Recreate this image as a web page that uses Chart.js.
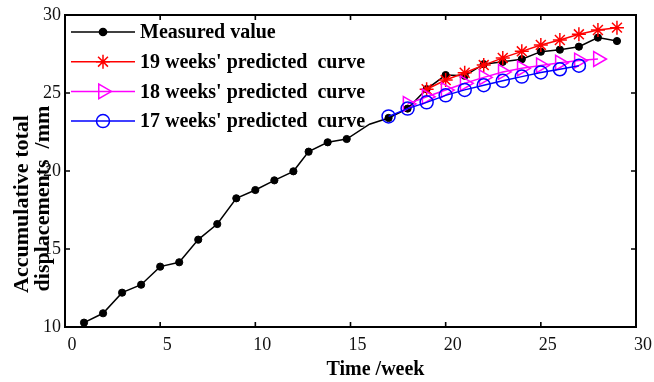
<!DOCTYPE html>
<html>
<head>
<meta charset="utf-8">
<script src="https://cdn.jsdelivr.net/npm/chart.js@4.4.1/dist/chart.umd.min.js"></script>
<style>
  html, body { margin: 0; padding: 0; background: #ffffff; }
  #wrap { width: 654px; height: 382px; position: relative; }
</style>
</head>
<body>
<div id="wrap"><canvas id="c" width="654" height="382"></canvas></div>
<script>
// ---- data ----
const measuredWeeks = [1, 2, 3, 4, 5, 6, 7, 8, 9, 10, 11, 12, 12.8, 13.8, 14.8, 16, 17, 18, 19, 20, 21, 22, 23, 24, 25, 26, 27, 28, 29];
const measuredValues = [10.28, 10.88, 12.20, 12.71, 13.87, 14.15, 15.60, 16.60, 18.25, 18.78, 19.40, 19.98, 21.24, 21.84, 22.05, 23.00, 23.40, 24.00, 25.25, 26.15, 26.10, 26.85, 27.00, 27.17, 27.65, 27.78, 27.97, 28.55, 28.33];
const measuredMarkerShown = [1,1,1,1,1,1,1,1,1,1,1,1,1,1,1,0,1,1,1,1,1,1,1,1,1,1,1,1,1];

const weeks19 = [19, 20, 21, 22, 23, 24, 25, 26, 27, 28, 29];
const pred19 = [25.24, 25.83, 26.30, 26.79, 27.25, 27.67, 28.08, 28.40, 28.76, 29.04, 29.19];

const weeks18 = [18, 19, 20, 21, 22, 23, 24, 25, 26, 27, 28];
const pred18 = [24.30, 24.76, 25.19, 25.62, 26.00, 26.35, 26.58, 26.77, 26.94, 27.08, 27.18];

const weeks17 = [17, 18, 19, 20, 21, 22, 23, 24, 25, 26, 27];
const pred17 = [23.50, 24.00, 24.40, 24.85, 25.20, 25.50, 25.78, 26.05, 26.32, 26.52, 26.75];

const seriesNames = ["Measured value", "19 weeks' predicted  curve", "18 weeks' predicted  curve", "17 weeks' predicted  curve"];
const xTickValues = [0, 5, 10, 15, 20, 25, 30];
const yTickValues = [10, 15, 20, 25, 30];
const xTitle = "Time /week";
const yTitleLines = ["Accumulative total", "displacements  /mm"];

// ---- build ----
const pts = (xs, ys) => xs.map((x, i) => ({ x: x, y: ys[i] }));
const SERIF = "'Liberation Serif', 'Times New Roman', serif";

const datasets = [
  { label: seriesNames[0], data: pts(measuredWeeks, measuredValues), borderColor: '#000000', backgroundColor: '#000000',
    pointStyle: 'circle', pointRadius: measuredMarkerShown.map(s => s ? 3.6 : 0), pointBorderWidth: 1, borderWidth: 1.5, order: 4 },
  { label: seriesNames[1], data: pts(weeks19, pred19), borderColor: '#ff0000', backgroundColor: '#ff0000',
    pointStyle: 'star', pointRadius: 7, pointBorderWidth: 1.5, borderWidth: 1.5, order: 3 },
  { label: seriesNames[2], data: pts(weeks18, pred18), borderColor: '#ff00ff', backgroundColor: 'rgba(0,0,0,0)',
    pointStyle: 'triangle', pointRotation: 90, pointRadius: 8.5, pointBorderWidth: 1.5, borderWidth: 1.5, order: 2 },
  { label: seriesNames[3], data: pts(weeks17, pred17), borderColor: '#0000ff', backgroundColor: 'rgba(0,0,0,0)',
    pointStyle: 'circle', pointRadius: 6.5, pointBorderWidth: 1.5, borderWidth: 1.5, order: 1 }
];
datasets.forEach(d => { d.fill = false; d.tension = 0; d.pointHoverRadius = d.pointRadius; });

const frameAndTicks = {
  id: 'frameAndTicks',
  afterDraw(chart) {
    const { ctx, chartArea: a, scales } = chart;
    ctx.save();
    ctx.strokeStyle = '#000';
    ctx.lineWidth = 1.6;
    const L = 5;
    ctx.beginPath();
    xTickValues.forEach(v => {
      const p = scales.x.getPixelForValue(v);
      ctx.moveTo(p, a.bottom); ctx.lineTo(p, a.bottom - L);
      ctx.moveTo(p, a.top); ctx.lineTo(p, a.top + L);
    });
    yTickValues.forEach(v => {
      const p = scales.y.getPixelForValue(v);
      ctx.moveTo(a.left, p); ctx.lineTo(a.left + L, p);
      ctx.moveTo(a.right, p); ctx.lineTo(a.right - L, p);
    });
    ctx.stroke();
    ctx.lineWidth = 2;
    ctx.strokeRect(a.left, a.top, a.right - a.left, a.bottom - a.top);
    ctx.restore();
  }
};

const insideLegend = {
  id: 'insideLegend',
  afterDraw(chart) {
    const { ctx, chartArea: a } = chart;
    const lineStart = a.left + 6, lineEnd = a.left + 70, markX = a.left + 38, textX = a.left + 75;
    const rowTop = a.top + 17, rowGap = 29.7;
    ctx.save();
    chart.data.datasets.forEach((d, i) => {
      const y = rowTop + i * rowGap;
      ctx.strokeStyle = d.borderColor;
      ctx.lineWidth = d.borderWidth;
      ctx.beginPath(); ctx.moveTo(lineStart, y); ctx.lineTo(lineEnd, y); ctx.stroke();
      ctx.fillStyle = d.backgroundColor;
      const r = Array.isArray(d.pointRadius) ? 3.6 : d.pointRadius;
      Chart.helpers.drawPoint(ctx, { pointStyle: d.pointStyle, radius: r, rotation: d.pointRotation || 0, borderWidth: d.pointBorderWidth }, markX, y);
      ctx.fillStyle = '#000';
      ctx.font = "bold 20px " + SERIF;
      ctx.textBaseline = 'middle';
      ctx.textAlign = 'left';
      ctx.fillText(d.label, textX, y + 1);
    });
    ctx.restore();
  }
};

new Chart(document.getElementById('c'), {
  type: 'line',
  data: { datasets: datasets },
  plugins: [frameAndTicks, insideLegend],
  options: {
    responsive: false,
    animation: false,
    layout: { padding: { top: 15, right: 18, left: 0, bottom: 0 } },
    plugins: { legend: { display: false }, tooltip: { enabled: false } },
    scales: {
      x: {
        type: 'linear', min: 0, max: 30,
        afterBuildTicks: s => { s.ticks = xTickValues.map(v => ({ value: v })); },
        afterFit: s => { s.height = 55; },
        grid: { display: false, drawTicks: false },
        border: { display: false },
        ticks: { color: '#111', padding: 7, labelOffset: 7, maxRotation: 0, font: { family: SERIF, size: 18 } },
        title: { display: true, text: '          ' + xTitle, color: '#000', padding: { top: 0, bottom: 2 },
                 font: { family: SERIF, size: 20, weight: 'bold', lineHeight: 1.05 } }
      },
      y: {
        type: 'linear', min: 10, max: 30,
        afterBuildTicks: s => { s.ticks = yTickValues.map(v => ({ value: v })); },
        afterFit: s => { s.width = 65; },
        grid: { display: false, drawTicks: false },
        border: { display: false },
        ticks: { color: '#111', padding: 4, font: { family: SERIF, size: 18 } },
        title: { display: true, text: [yTitleLines[0] + '            ', yTitleLines[1] + '          '], color: '#000',
                 padding: { top: 12, bottom: 0 },
                 font: { family: SERIF, size: 22, weight: 'bold', lineHeight: 0.95 } }
      }
    }
  }
});
</script>
</body>
</html>
